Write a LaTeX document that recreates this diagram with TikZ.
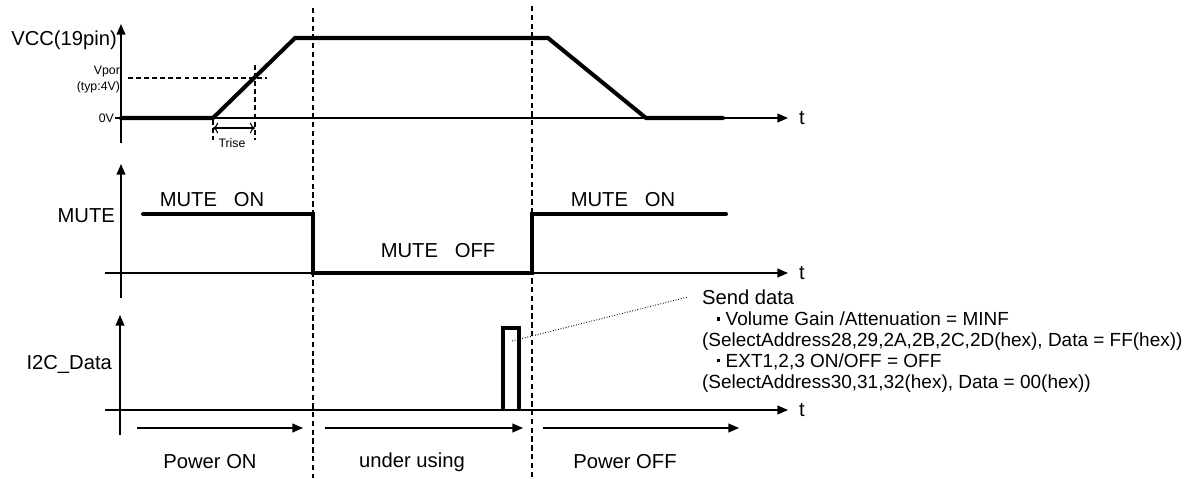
\documentclass[tikz,border=0pt]{standalone}
\usepackage{fontspec}
\setmainfont{Liberation Sans}
\usetikzlibrary{arrows.meta,positioning}

\newcommand{\dotmark}{\raisebox{0.28em}{\rule{1.8pt}{1.8pt}}}

\tikzset{
  axis/.style={line width=0.8pt,-{Triangle[length=6pt,width=5pt]}},
  wave/.style={line width=2.3pt,line cap=round},
  phase/.style={line width=0.6pt,dash pattern=on 3pt off 2pt},
  guide/.style={line width=0.6pt,dash pattern=on 2.8pt off 1.8pt},
  span/.style={line width=0.8pt,-{Triangle[length=6pt,width=5pt]}},
  lbl/.style={font=\fontsize{11.5}{12}\selectfont,inner sep=1pt},
  note/.style={font=\fontsize{10.8}{11.9}\selectfont,inner sep=1pt},
  tiny/.style={font=\fontsize{7}{8}\selectfont,inner sep=1pt},
}

\begin{document}
\begin{tikzpicture}[x=0.02cm,y=-0.02cm]
\useasboundingbox (0,0) rectangle (1195,478);

% phase borders
\draw[phase] (313,8) -- (313,478);
\draw[phase] (532,6) -- (532,478);

% VCC
\coordinate (vccO) at (121,118);
\coordinate (vccT) at (121,24);
\coordinate (vccX) at (788,118);
\draw[axis] (121,143) -- (vccT);
\draw[axis] (115,118) -- (vccX);
\node[lbl,anchor=east] (vcc) at (119,40) {VCC(19pin)};
\node[lbl,anchor=west] (t1) at (797,118) {t};
\node[tiny,anchor=east] (vpor) at (122,72) {Vpor};
\node[tiny,anchor=east] (typ) at (122,87) {(typ:4V)};
\node[tiny,anchor=east] (zero) at (116,118) {0V};
\draw[guide] (128,78) -- (267,78);
\draw[guide] (255,65) -- (255,140);
\draw[guide] (213,120) -- (213,140);
\draw[line width=0.6pt,<->] (213,128) -- (255,128);
\node[tiny] (trise) at (232,143) {Trise};
\draw[wave] (vccO) -- (213,118) -- (295,38) -- (548,38) -- (646,118) -- (723,118);

% MUTE
\draw[axis] (121,298) -- (121,164);
\draw[axis] (105,273) -- (788,273);
\node[lbl,anchor=east] (mute) at (117,216) {MUTE};
\node[lbl,anchor=west] (t2) at (797,273) {t};
\draw[wave] (143,214) -- (313,214) -- (313,273) -- (532,273) -- (532,214) -- (726,214);
\node[lbl] (on1) at (212,200) {MUTE\ \ \ ON};
\node[lbl] (off) at (438,251) {MUTE\ \ \ OFF};
\node[lbl] (on2) at (623,200) {MUTE\ \ \ ON};

% I2C_Data
\draw[axis] (120,435) -- (120,315);
\draw[axis] (105,410) -- (788,410);
\node[lbl,anchor=east] (i2c) at (114,364) {I2C\_Data};
\node[lbl,anchor=west] (t3) at (797,410) {t};
\draw[wave] (503,408) -- (503,328) -- (519,328) -- (519,408);
\coordinate (pulse) at (512,341);

% send data note
\node[lbl,anchor=west] (send) at (700,297) {Send data};
\node[note,anchor=north west,align=left] (detail) at (700,310) {%
  \hspace{0.8em}\dotmark\ Volume Gain /Attenuation = MINF\\
  (SelectAddress28,29,2A,2B,2C,2D(hex), Data = FF(hex))\\
  \hspace{0.8em}\dotmark\ EXT1,2,3 ON/OFF = OFF\\
  (SelectAddress30,31,32(hex), Data = 00(hex))};
\draw[line width=0.5pt,densely dotted] (pulse) -- ([xshift=-7pt]send.west);

% phases
\draw[span] (137,428) -- (303,428);
\draw[span] (325,428) -- (523,428);
\draw[span] (543,428) -- (739,428);
\node[lbl] (pon) at (210,462) {Power ON};
\node[lbl] (use) at (412,462) {under using};
\node[lbl] (poff) at (625,462) {Power OFF};
\end{tikzpicture}
\end{document}
